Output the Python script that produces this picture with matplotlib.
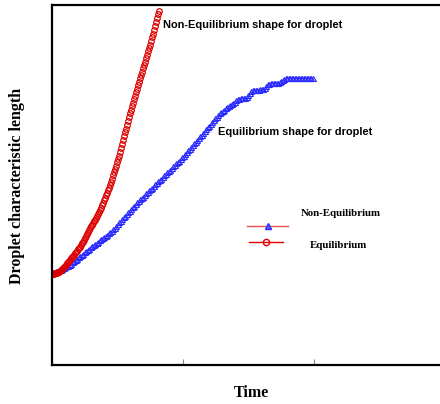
import matplotlib
matplotlib.use("Agg")
import matplotlib.pyplot as plt
from matplotlib.lines import Line2D
import numpy as np

# last sample time of each run (x axis in arbitrary time units, ticks at 0, 1, 2)
t_red_end = 0.817
t_blue_end = 1.99

# droplet length, non-equilibrium shape (red circles)
red_len = [2.53, 2.535, 2.54, 2.55, 2.56, 2.57, 2.58, 2.595, 2.61, 2.64,
           2.67, 2.695, 2.72, 2.755, 2.79, 2.825, 2.86, 2.895, 2.93, 2.965,
           3.00, 3.035, 3.07, 3.105, 3.14, 3.175, 3.21, 3.245, 3.28, 3.33,
           3.38, 3.425, 3.47, 3.525, 3.58, 3.635, 3.69, 3.75, 3.81, 3.855,
           3.90, 3.95, 4.00, 4.04, 4.08, 4.135, 4.19, 4.25, 4.31, 4.375,
           4.44, 4.51, 4.58, 4.65, 4.72, 4.79, 4.86, 4.93, 5.00, 5.09,
           5.18, 5.27, 5.36, 5.45, 5.54, 5.63, 5.72, 5.82, 5.92, 6.025,
           6.13, 6.24, 6.35, 6.46, 6.57, 6.675, 6.78, 6.89, 7.00, 7.095,
           7.19, 7.29, 7.39, 7.485, 7.58, 7.68, 7.78, 7.875, 7.97, 8.06,
           8.15, 8.24, 8.33, 8.43, 8.53, 8.62, 8.71, 8.80, 8.89, 8.995,
           9.10, 9.205, 9.31, 9.42, 9.53, 9.64, 9.75, 9.83]

# droplet length, equilibrium shape (blue triangles)
blue_len = [2.56, 2.575, 2.59, 2.605, 2.62, 2.635, 2.65, 2.67, 2.69, 2.715,
            2.74, 2.76, 2.78, 2.815, 2.85, 2.885, 2.92, 2.955, 2.99, 3.025,
            3.06, 3.095, 3.13, 3.165, 3.20, 3.235, 3.27, 3.305, 3.34, 3.37,
            3.40, 3.43, 3.46, 3.495, 3.53, 3.56, 3.59, 3.625, 3.66, 3.695,
            3.73, 3.77, 3.81, 3.86, 3.91, 3.96, 4.01, 4.055, 4.10, 4.15,
            4.20, 4.245, 4.29, 4.34, 4.39, 4.43, 4.47, 4.515, 4.56, 4.60,
            4.64, 4.68, 4.72, 4.765, 4.81, 4.85, 4.89, 4.93, 4.97, 5.015,
            5.06, 5.10, 5.14, 5.18, 5.22, 5.265, 5.31, 5.35, 5.39, 5.43,
            5.47, 5.515, 5.56, 5.60, 5.64, 5.68, 5.72, 5.765, 5.81, 5.86,
            5.91, 5.96, 6.01, 6.06, 6.11, 6.155, 6.20, 6.25, 6.30, 6.35,
            6.40, 6.45, 6.50, 6.55, 6.60, 6.65, 6.70, 6.75, 6.80, 6.85,
            6.90, 6.95, 7.00, 7.03, 7.06, 7.095, 7.13, 7.16, 7.19, 7.225,
            7.26, 7.29, 7.32, 7.35, 7.38, 7.40, 7.42, 7.42, 7.42, 7.43,
            7.44, 7.50, 7.56, 7.60, 7.64, 7.64, 7.64, 7.64, 7.64, 7.655,
            7.67, 7.68, 7.69, 7.75, 7.81, 7.82, 7.83, 7.83, 7.83, 7.83,
            7.83, 7.845, 7.86, 7.89, 7.92, 7.945, 7.97, 7.97, 7.97, 7.97,
            7.97, 7.97, 7.97, 7.97, 7.97, 7.97, 7.97, 7.97, 7.97, 7.97,
            7.97, 7.97, 7.97, 7.97, 7.97]

t_red = np.linspace(0, t_red_end, len(red_len))
t_blue = np.linspace(0, t_blue_end, len(blue_len))

fig = plt.figure(figsize=(4.4, 4.04), dpi=100)
ax = fig.add_axes([0.118, 0.0965, 0.882, 0.891])

ax.plot(t_blue, blue_len, linestyle="none", marker="^", markersize=3.6,
        markerfacecolor="none", markeredgecolor="#2a2aff", markeredgewidth=0.8)
ax.plot(t_red, red_len, linestyle="none", marker="o", markersize=4.0,
        markerfacecolor="none", markeredgecolor="#dd0000", markeredgewidth=0.9)

ax.set_xlim(0, 2.96)
ax.set_ylim(0, 10)
ax.set_xticks([0, 1, 2])
ax.set_xticklabels([])
ax.set_yticks([])
ax.tick_params(axis="x", direction="in", length=4, color="#888888", width=0.8)
for side in ["left", "bottom", "top"]:
    ax.spines[side].set_linewidth(1.6)
ax.spines["right"].set_visible(False)

sans = ["Liberation Sans", "DejaVu Sans"]
serif = ["Liberation Serif", "DejaVu Serif"]

ax.text(0.286, 0.945, "Non-Equilibrium shape for droplet", transform=ax.transAxes,
        fontsize=7.9, fontweight="bold", family=sans, va="center")
ax.text(0.428, 0.647, "Equilibrium shape for droplet", transform=ax.transAxes,
        fontsize=7.9, fontweight="bold", family=sans, va="center")

# hand-drawn style legend
ax.add_line(Line2D([0.503, 0.608], [0.386, 0.386], transform=ax.transAxes,
                   color="#e85050", linewidth=1.0))
ax.add_line(Line2D([0.556], [0.386], transform=ax.transAxes, marker="^",
                   markersize=4, markerfacecolor="#6060ff", markeredgecolor="#2a2aff"))
ax.add_line(Line2D([0.508, 0.595], [0.342, 0.342], transform=ax.transAxes,
                   color="#e00000", linewidth=1.0))
ax.add_line(Line2D([0.552], [0.342], transform=ax.transAxes, marker="o",
                   markersize=4.5, markerfacecolor="none", markeredgecolor="#dd0000"))
ax.text(0.642, 0.42, "Non-Equilibrium", transform=ax.transAxes,
        fontsize=7.8, fontweight="bold", family=serif, va="center")
ax.text(0.665, 0.332, "Equilibrium", transform=ax.transAxes,
        fontsize=7.8, fontweight="bold", family=serif, va="center")

fig.text(0.039, 0.54, "Droplet characteristic length", rotation=90,
         fontsize=11.5, fontweight="bold", family=serif, ha="center", va="center")
fig.text(0.571, 0.027, "Time", fontsize=11.5, fontweight="bold", family=serif,
         ha="center", va="center")

fig.savefig("out.png", dpi=100)
